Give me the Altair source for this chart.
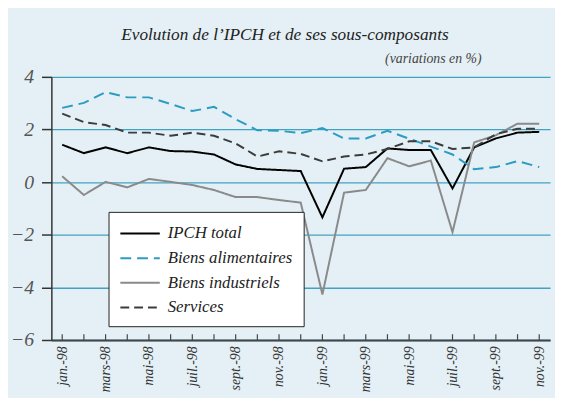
import altair as alt
import pandas as pd

months = ["jan.-98", "févr.-98", "mars-98", "avr.-98", "mai-98", "juin-98",
          "juil.-98", "août-98", "sept.-98", "oct.-98", "nov.-98", "déc.-98",
          "jan.-99", "févr.-99", "mars-99", "avr.-99", "mai-99", "juin-99",
          "juil.-99", "août-99", "sept.-99", "oct.-99", "nov.-99"]

ipch_total = [1.42, 1.10, 1.32, 1.10, 1.32, 1.18, 1.16, 1.05, 0.67, 0.50, 0.46,
              0.42, -1.34, 0.51, 0.57, 1.28, 1.22, 1.22, -0.24, 1.32, 1.66, 1.88, 1.91]
biens_alimentaires = [2.82, 3.01, 3.42, 3.22, 3.22, 2.97, 2.70, 2.86, 2.39, 1.97, 1.95,
                      1.86, 2.05, 1.66, 1.66, 1.95, 1.65, 1.35, 1.05, 0.49, 0.57, 0.80, 0.57]
biens_industriels = [0.22, -0.49, 0.01, -0.20, 0.12, 0.01, -0.11, -0.30, -0.57, -0.57, -0.68,
                     -0.78, -4.27, -0.40, -0.30, 0.91, 0.60, 0.82, -1.90, 1.51, 1.78, 2.22, 2.22]
services = [2.60, 2.28, 2.17, 1.88, 1.88, 1.76, 1.88, 1.76, 1.47, 0.97, 1.17,
            1.07, 0.79, 0.97, 1.05, 1.26, 1.55, 1.55, 1.26, 1.32, 1.82, 2.03, 2.03]

series_names = ["IPCH total", "Biens alimentaires", "Biens industriels", "Services"]
series_values = [ipch_total, biens_alimentaires, biens_industriels, services]
series_colors = ["#000000", "#2b9cc2", "#8a8a8a", "#3c3c3c"]
series_dash = [[1, 0], [11, 6], [1, 0], [9, 5]]
y_ticks = [-6, -4, -2, 0, 2, 4]

rows = []
for name, vals in zip(series_names, series_values):
    for m, v in zip(months, vals):
        rows.append({"mois": m, "serie": name, "valeur": v})
df = pd.DataFrame(rows)
ticks_df = pd.DataFrame({"mois": months})

SERIF = "Liberation Serif, DejaVu Serif"

x_enc = alt.X("mois:N", sort=months,
              scale=alt.Scale(type="point", padding=0.5),
              axis=alt.Axis(title=None, labelAngle=-90, labelFont=SERIF,
                            labelFontStyle="italic", labelFontSize=14,
                            labelColor="#333333", labelPadding=6,
                            labelExpr="test(/^(jan|mars|mai|juil|sept|nov)/, datum.value) ? datum.value : ''",
                            ticks=False, domainColor="#444444", domainWidth=2,
                            grid=False))

y_scale = alt.Scale(domain=[-6, 4], nice=False, zero=False)

lines = alt.Chart(df).mark_line(strokeWidth=2).encode(
    x=x_enc,
    y=alt.Y("valeur:Q", scale=y_scale,
            axis=alt.Axis(values=y_ticks, title="(variations en %)",
                          titleAngle=0, titleX=436, titleY=-12,
                          titleAlign="right", titleFont=SERIF,
                          titleFontStyle="italic", titleFontWeight="normal",
                          titleFontSize=14, titleColor="#444444",
                          labelFont=SERIF, labelFontStyle="italic",
                          labelFontSize=20, labelColor="#555555",
                          labelPadding=8, tickSize=10, tickColor="#333333",
                          tickWidth=1.5, domainColor="#333333", domainWidth=1.5,
                          grid=True, gridColor="#42a2c2", gridWidth=1.3)),
    color=alt.Color("serie:N", sort=series_names,
                    scale=alt.Scale(domain=series_names, range=series_colors),
                    legend=alt.Legend(title=None, orient="none", legendX=58, legendY=137,
                                      symbolType="M-1,0H3", symbolSize=400,
                                      symbolStrokeWidth=2, labelFont=SERIF,
                                      labelFontStyle="italic", labelFontSize=17,
                                      labelColor="#222222", labelOffset=27,
                                      fillColor="white", strokeColor="#222222",
                                      padding=11, rowPadding=6)),
    strokeDash=alt.StrokeDash("serie:N", sort=series_names,
                              scale=alt.Scale(domain=series_names, range=series_dash),
                              legend=None),
)

tick_marks = alt.Chart(ticks_df).mark_rule(color="#444444", strokeWidth=1.2).encode(
    x=alt.X("mois:N", sort=months, scale=alt.Scale(type="point", padding=0.5)),
    y=alt.datum(-6),
    y2=alt.datum(-5.78),
)

chart = alt.layer(lines, tick_marks).properties(
    width=506, height=267,
    title=alt.TitleParams("Evolution de l’IPCH et de ses sous-composants",
                          font=SERIF, fontStyle="italic", fontWeight="normal",
                          fontSize=17.5, color="#222222", anchor="middle",
                          dx=-16, offset=8),
    autosize=alt.AutoSizeParams(type="none"),
    padding={"left": 44, "top": 67, "right": 5, "bottom": 56},
    background="#e4f0f5",
).configure_view(stroke=None)

chart.save("out.html", embed_options={"renderer": "svg", "actions": False})
